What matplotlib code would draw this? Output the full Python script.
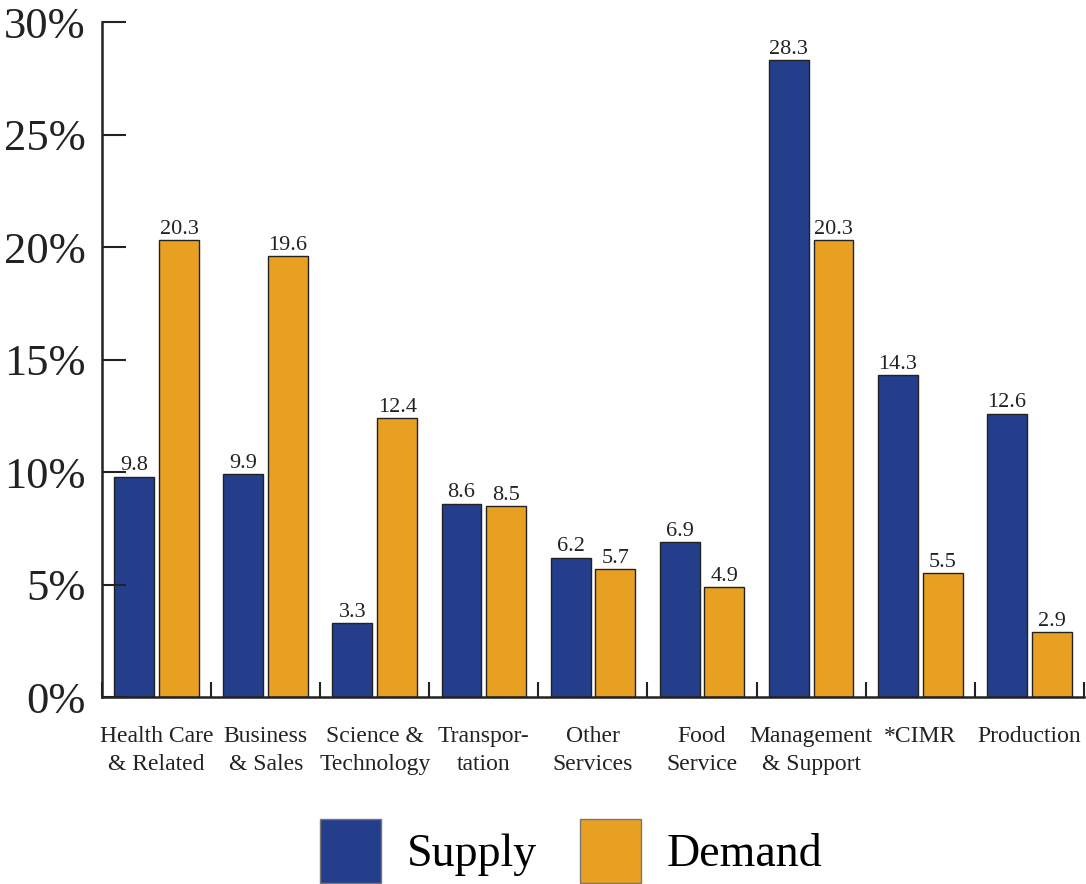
import matplotlib
matplotlib.use("Agg")
import matplotlib.pyplot as plt
import numpy as np
from matplotlib.patches import Patch

categories = ["Health Care\n& Related", "Business\n& Sales", "Science &\nTechnology",
              "Transpor-\ntation", "Other\nServices", "Food\nService",
              "Management\n& Support", "*CIMR", "Production"]
supply = [9.8, 9.9, 3.3, 8.6, 6.2, 6.9, 28.3, 14.3, 12.6]
demand = [20.3, 19.6, 12.4, 8.5, 5.7, 4.9, 20.3, 5.5, 2.9]
yticks = [0, 5, 10, 15, 20, 25, 30]

plt.rcParams['font.family'] = ['Liberation Serif', 'DejaVu Serif']

c_sup = "#243e8c"
c_dem = "#e8a023"
edge = "#222222"

fig = plt.figure(figsize=(10.86, 8.84), dpi=100)
ax = fig.add_axes([0.094, 0.2115, 0.904, 0.7635])

x = np.arange(len(categories))
w = 0.366
off = 0.205
b1 = ax.bar(x - off, supply, w, color=c_sup, edgecolor=edge, linewidth=1.0, label="Supply")
b2 = ax.bar(x + off, demand, w, color=c_dem, edgecolor=edge, linewidth=1.0, label="Demand")
for bars, vals in ((b1, supply), (b2, demand)):
    for r, v in zip(bars, vals):
        ax.text(r.get_x() + r.get_width() / 2, v + 0.05, f"{v:.1f}", ha="center", va="bottom",
                fontsize=16, color="#222222")

ax.set_xlim(-0.5, len(categories) - 0.5)
ax.set_ylim(0, 30)
ax.set_yticks(yticks)
ax.set_yticklabels([f"{t}%" for t in yticks], fontsize=32, color="#222222")
ax.tick_params(axis="y", direction="in", length=17, width=1.5, pad=12, colors="#222222")

ax.set_xticks(np.arange(len(categories) + 1) - 0.5)
ax.set_xticklabels([])
ax.tick_params(axis="x", which="major", direction="in", length=11, width=1.5, colors="#222222")
ax.set_xticks(x, minor=True)
ax.set_xticklabels(categories, minor=True, fontsize=17, color="#222222", linespacing=1.45)
ax.tick_params(axis="x", which="minor", length=0, pad=21)

for s in ("top", "right"):
    ax.spines[s].set_visible(False)
for s in ("left", "bottom"):
    ax.spines[s].set_linewidth(1.8)
    ax.spines[s].set_color("#222222")

handles = [Patch(facecolor=c_sup, edgecolor="#777777", label="Supply"),
           Patch(facecolor=c_dem, edgecolor="#777777", label="Demand")]
fig.legend(handles=handles, loc="center", bbox_to_anchor=(0.526, 0.037), ncol=2, frameon=False,
           fontsize=33, handlelength=1.33, handleheight=1.77, handletextpad=0.55, columnspacing=0.95)

fig.savefig("out.png", dpi=100)
